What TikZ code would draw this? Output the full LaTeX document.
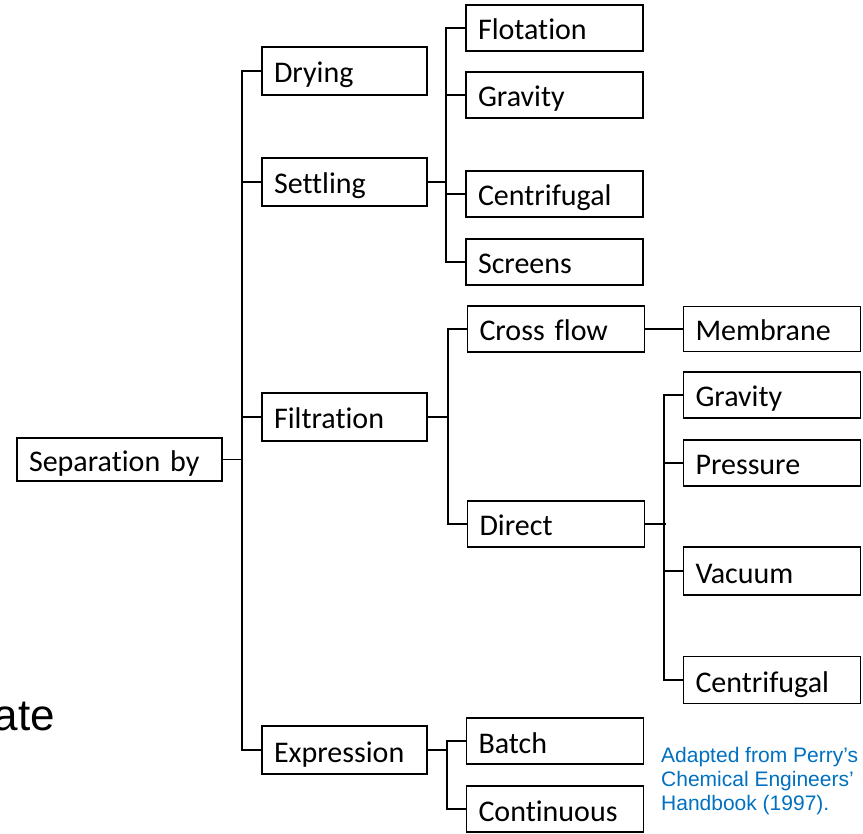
\documentclass[tikz,border=0pt]{standalone}
\usepackage{fontspec}
\setmainfont{Carlito}[Ligatures=NoCommon]
\newfontfamily\arialf{Liberation Sans}
\definecolor{noteblue}{RGB}{0,112,192}
\begin{document}
\begin{tikzpicture}[x=1pt,y=-1pt,
  box/.style={draw, line width=1.1pt, inner xsep=12pt, inner ysep=0pt, align=left,
    text height=30pt, text depth=6pt,
    font=\fontsize{30}{34}\selectfont},
  wA/.style={box, text width=141pt},
  wB/.style={box, text width=153pt},
  link/.style={line width=1.1pt}]
\useasboundingbox (0,0) rectangle (863,834);
% root
\node[box, text width=181pt, minimum height=43pt] (sep) at (119.5,459.5) {Separation by};
% level 1
\node[wA, minimum height=48pt] (drying) at (344.5,71) {Drying};
\node[wA, minimum height=48pt] (settling) at (344.5,182) {Settling};
\node[wA, minimum height=48pt] (filtration) at (344.5,417) {Filtration};
\node[wA, minimum height=48pt] (expression) at (344.5,750) {Expression};
% level 2
\node[wB, minimum height=46pt] (flotation) at (554.5,28) {Flotation};
\node[wB, minimum height=46pt] (gravityA) at (554.5,95) {Gravity};
\node[wB, minimum height=46pt] (centriA) at (554.5,194) {Centrifugal};
\node[wB, minimum height=46pt] (screens) at (554.5,262) {Screens};
\node[wB, minimum height=46pt] (crossflow) at (556,329) {Cross flow};
\node[wB, minimum height=46pt] (direct) at (556,524) {Direct};
\node[wB, minimum height=46pt] (batch) at (555,741) {Batch};
\node[wB, minimum height=46pt] (continuous) at (555,809) {Continuous};
% level 3
\node[wB, minimum height=45pt] (membrane) at (772,329) {Membrane};
\node[wB, minimum height=46pt] (gravityB) at (772,395) {Gravity};
\node[wB, minimum height=46pt] (pressure) at (772,463) {Pressure};
\node[wB, minimum height=48pt] (vacuum) at (772,571) {Vacuum};
\node[wB, minimum height=47pt] (centriB) at (772,680) {Centrifugal};
% bus coordinates
\coordinate (trunk) at (242,0);
\coordinate (busS) at (446,0);
\coordinate (busF) at (448,0);
\coordinate (busE) at (447,0);
\coordinate (busD) at (664,0);
% root connectors
\draw[link] (sep.east) -- (sep.east -| trunk);
\draw[link] (drying.west) -- (drying.west -| trunk) |- (expression.west);
\draw[link] (settling.west) -- (settling.west -| trunk);
\draw[link] (filtration.west) -- (filtration.west -| trunk);
% settling
\draw[link] (settling.east) -- (settling.east -| busS);
\draw[link] (flotation.west) -- (flotation.west -| busS) |- (screens.west);
\draw[link] (gravityA.west) -- (gravityA.west -| busS);
\draw[link] (centriA.west) -- (centriA.west -| busS);
% filtration
\draw[link] (filtration.east) -- (filtration.east -| busF);
\draw[link] (crossflow.west) -- (crossflow.west -| busF) |- (direct.west);
\draw[link] (crossflow.east) -- (membrane.west);
% direct
\draw[link] (direct.east) -- ([xshift=2pt]direct.east -| busD);
\draw[link] (gravityB.west) -- (gravityB.west -| busD) |- (centriB.west);
\draw[link] (pressure.west) -- (pressure.west -| busD);
\draw[link] (vacuum.west) -- (vacuum.west -| busD);
% expression
\draw[link] (expression.east) -- (expression.east -| busE);
\draw[link] (batch.west) -- (batch.west -| busE) |- (continuous.west);
% texts
\node[anchor=base east, inner sep=0pt, font=\arialf\fontsize{44}{50}\selectfont] (ate) at (55,730) {ate};
\node[anchor=north west, inner sep=0pt, align=left, text=noteblue,
  font=\arialf\fontsize{21}{24}\selectfont] (note) at (661,747) {Adapted from Perry’s\\Chemical Engineers’\\Handbook (1997).};
\end{tikzpicture}
\end{document}
